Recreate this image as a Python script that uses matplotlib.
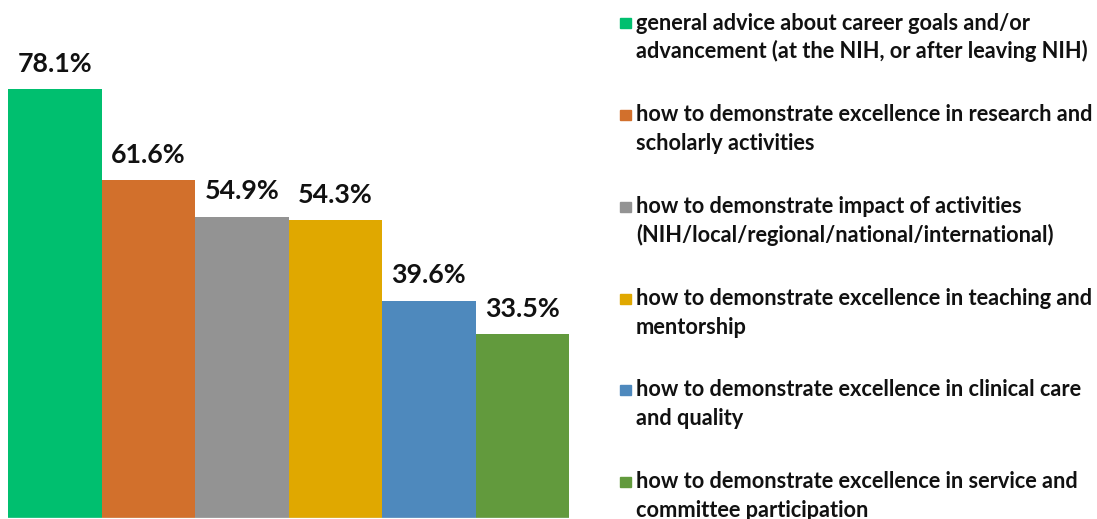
import matplotlib.pyplot as plt
from matplotlib.patches import Rectangle
import numpy as np

# ---------------------------------------------------------------------------
# Data
# ---------------------------------------------------------------------------
categories = [
    "general advice about career goals and/or\nadvancement (at the NIH, or after leaving NIH)",
    "how to demonstrate excellence in research and\nscholarly activities",
    "how to demonstrate impact of activities\n(NIH/local/regional/national/international)",
    "how to demonstrate excellence in teaching and\nmentorship",
    "how to demonstrate excellence in clinical care\nand quality",
    "how to demonstrate excellence in service and\ncommittee participation",
]
values = [78.1, 61.6, 54.9, 54.3, 39.6, 33.5]
colors = ["#00BF6F", "#D2702C", "#939393", "#E0A800", "#4E89BD", "#629A3D"]

W, H = 1097, 519
FONT = "Lato"

fig = plt.figure(figsize=(W / 100, H / 100), dpi=100)
ax = fig.add_axes([8 / W, 1 / H, (569 - 8) / W, 1 - 1 / H])

x = np.arange(len(values))
ax.bar(x, values, width=1.0, color=colors, edgecolor="none")
ax.set_xlim(-0.5, len(values) - 0.5)
ax.set_ylim(0, 518 / 5.49)
ax.axhline(0, color="#d9d9d9", linewidth=1.0)

for xi, v in zip(x, values):
    ax.annotate(f"{v}%", (xi, v), xytext=(0, 9.5), textcoords="offset points",
                ha="center", va="bottom", fontsize=19.3, fontweight="bold",
                family=FONT, color="#111111")

ax.set_xticks([])
ax.set_yticks([])
for s in ax.spines.values():
    s.set_visible(False)

# Legend drawn by hand so the two-line labels sit like the original
for i, (lab, c) in enumerate(zip(categories, colors)):
    yc = 23.5 + 91.7 * i
    fig.patches.append(Rectangle((620 / W, 1 - (yc + 5) / H), 11 / W, 10 / H,
                                 transform=fig.transFigure, color=c))
    for j, line in enumerate(lab.split("\n")):
        fig.text(636 / W, 1 - (yc + 6 + 29 * j) / H, line, ha="left",
                 va="baseline", fontsize=15.7, fontweight="bold",
                 family=FONT, color="#111111")

fig.savefig("out.png", dpi=100)
